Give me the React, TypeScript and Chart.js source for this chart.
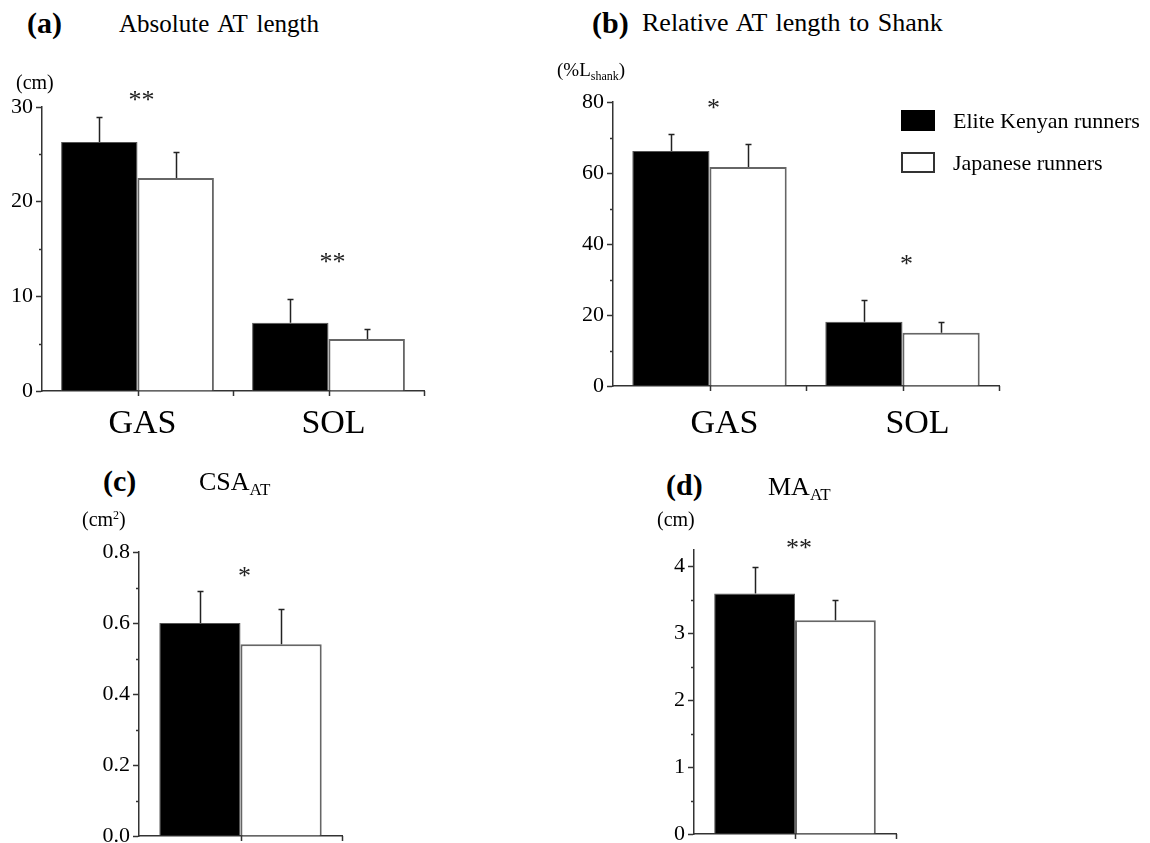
import React, { useEffect, useRef } from 'react';
import { Chart, registerables } from 'chart.js';

Chart.register(...registerables);

const FONT = "'Liberation Serif', 'Times New Roman', Times, serif";
const AXIS_COLOR = '#333333';

// ---------- data ----------
const groupNames = ['Elite Kenyan runners', 'Japanese runners'];
const muscleCategories = ['GAS', 'SOL'];
const singleCategory = [''];

// (a) Absolute AT length (cm)
const absKenyan = [26.3, 7.2];
const absKenyanSD = [2.6, 2.5];
const absJapanese = [22.5, 5.5];
const absJapaneseSD = [2.7, 1.1];
const absTicks = [0, 10, 20, 30];
const absMinorTicks = [5, 15, 25];
const absSigMarks = ['**', '**'];
const absSigLevel = [31.2, 14.1];

// (b) Relative AT length to shank (%Lshank)
const relKenyan = [66.2, 18.1];
const relKenyanSD = [4.9, 6.1];
const relJapanese = [61.7, 15.0];
const relJapaneseSD = [6.6, 3.1];
const relTicks = [0, 20, 40, 60, 80];
const relMinorTicks = [10, 30, 50, 70];
const relSigMarks = ['*', '*'];
const relSigLevel = [79.5, 35.6];

// (c) CSA_AT (cm2)
const csaKenyan = [0.6];
const csaKenyanSD = [0.09];
const csaJapanese = [0.54];
const csaJapaneseSD = [0.1];
const csaTicks = [0, 0.2, 0.4, 0.6, 0.8];
const csaMinorTicks = [0.1, 0.3, 0.5, 0.7];
const csaSigMarks = ['*'];
const csaSigLevel = [0.743];

// (d) MA_AT (cm)
const maKenyan = [3.6];
const maKenyanSD = [0.4];
const maJapanese = [3.2];
const maJapaneseSD = [0.3];
const maTicks = [0, 1, 2, 3, 4];
const maMinorTicks = [0.5, 1.5, 2.5, 3.5];
const maSigMarks = ['**'];
const maSigLevel = [4.35];

type PanelCfg = {
  key: string;
  left: number;
  top: number;
  width: number;
  height: number;
  yAxisWidth: number;
  xAxisHeight: number;
  padTop: number;
  padRight: number;
  categories: string[];
  kenyan: number[];
  kenyanSD: number[];
  japanese: number[];
  japaneseSD: number[];
  yMax: number;
  ticks: number[];
  minorTicks: number[];
  decimals: number;
  sigMarks: string[];
  sigLevel: number[];
  showX: boolean;
  xLabelPad: number;
  xLabelOffset: number;
};

const panels: PanelCfg[] = [
  {
    key: 'a', left: 0, top: 80, width: 450, height: 360,
    yAxisWidth: 42, xAxisHeight: 49, padTop: 27, padRight: 26,
    categories: muscleCategories, kenyan: absKenyan, kenyanSD: absKenyanSD,
    japanese: absJapanese, japaneseSD: absJapaneseSD,
    yMax: 30, ticks: absTicks, minorTicks: absMinorTicks, decimals: 0,
    sigMarks: absSigMarks, sigLevel: absSigLevel, showX: true, xLabelPad: 5, xLabelOffset: 5,
  },
  {
    key: 'b', left: 560, top: 80, width: 590, height: 360,
    yAxisWidth: 53, xAxisHeight: 54, padTop: 22, padRight: 151,
    categories: muscleCategories, kenyan: relKenyan, kenyanSD: relKenyanSD,
    japanese: relJapanese, japaneseSD: relJapaneseSD,
    yMax: 80, ticks: relTicks, minorTicks: relMinorTicks, decimals: 0,
    sigMarks: relSigMarks, sigLevel: relSigLevel, showX: true, xLabelPad: 10, xLabelOffset: 15,
  },
  {
    key: 'c', left: 80, top: 530, width: 300, height: 326,
    yAxisWidth: 59, xAxisHeight: 20, padTop: 22, padRight: 38,
    categories: singleCategory, kenyan: csaKenyan, kenyanSD: csaKenyanSD,
    japanese: csaJapanese, japaneseSD: csaJapaneseSD,
    yMax: 0.8, ticks: csaTicks, minorTicks: csaMinorTicks, decimals: 1,
    sigMarks: csaSigMarks, sigLevel: csaSigLevel, showX: false, xLabelPad: 0, xLabelOffset: 0,
  },
  {
    key: 'd', left: 640, top: 530, width: 300, height: 324,
    yAxisWidth: 54, xAxisHeight: 20, padTop: 20, padRight: 44,
    categories: singleCategory, kenyan: maKenyan, kenyanSD: maKenyanSD,
    japanese: maJapanese, japaneseSD: maJapaneseSD,
    yMax: 4.25, ticks: maTicks, minorTicks: maMinorTicks, decimals: 0,
    sigMarks: maSigMarks, sigLevel: maSigLevel, showX: false, xLabelPad: 0, xLabelOffset: 0,
  },
];

function PanelChart({ cfg }: { cfg: PanelCfg }) {
  const ref = useRef<HTMLCanvasElement>(null);

  useEffect(() => {
    const canvas = ref.current;
    if (!canvas) return;

    const extras = {
      id: 'extras' + cfg.key,
      afterDatasetsDraw(chart: any) {
        const ctx = chart.ctx;
        const ys = chart.scales.y;
        const sds = [cfg.kenyanSD, cfg.japaneseSD];
        ctx.save();
        ctx.strokeStyle = '#222222';
        ctx.lineWidth = 1.5;
        chart.data.datasets.forEach((ds: any, di: number) => {
          const meta = chart.getDatasetMeta(di);
          meta.data.forEach((el: any, i: number) => {
            const v = ds.data[i] as number;
            const x = Math.round(el.x) + 0.5;
            const yv = ys.getPixelForValue(v);
            const yt = Math.round(ys.getPixelForValue(v + sds[di][i])) + 0.5;
            ctx.beginPath();
            ctx.moveTo(x, yv);
            ctx.lineTo(x, yt);
            ctx.moveTo(x - 3, yt);
            ctx.lineTo(x + 3, yt);
            ctx.stroke();
          });
        });
        ctx.restore();
      },
      afterDraw(chart: any) {
        const ctx = chart.ctx;
        const xs = chart.scales.x;
        const ys = chart.scales.y;
        const area = chart.chartArea;
        ctx.save();
        ctx.strokeStyle = AXIS_COLOR;
        ctx.lineWidth = 1.5;
        cfg.minorTicks.forEach((v) => {
          const py = Math.round(ys.getPixelForValue(v)) + 0.5;
          ctx.beginPath();
          ctx.moveTo(area.left - 3, py);
          ctx.lineTo(area.left, py);
          ctx.stroke();
        });
        const n = cfg.categories.length;
        const w = (area.right - area.left) / n;
        for (let i = 0; i < n; i++) {
          const cx = xs.getPixelForValue(i);
          [cx, cx + w / 2].forEach((px) => {
            const rx = Math.round(px) + 0.5;
            ctx.beginPath();
            ctx.moveTo(rx, area.bottom);
            ctx.lineTo(rx, area.bottom + 5);
            ctx.stroke();
          });
        }
        const fs = 26;
        ctx.fillStyle = '#222222';
        ctx.font = `${fs}px ${FONT}`;
        ctx.textAlign = 'center';
        ctx.textBaseline = 'alphabetic';
        cfg.sigMarks.forEach((m, i) => {
          const px = xs.getPixelForValue(i);
          const py = ys.getPixelForValue(cfg.sigLevel[i]);
          ctx.fillText(m, px + 4, py + 0.47 * fs);
        });
        ctx.restore();
      },
    };

    const chart = new Chart(canvas, {
      type: 'bar',
      data: {
        labels: cfg.categories,
        datasets: [
          {
            label: groupNames[0],
            data: cfg.kenyan,
            backgroundColor: '#000000',
            borderColor: '#555555',
            borderWidth: 1,
          },
          {
            label: groupNames[1],
            data: cfg.japanese,
            backgroundColor: '#ffffff',
            borderColor: '#666666',
            borderWidth: 2,
          },
        ],
      },
      options: {
        responsive: false,
        animation: false,
        devicePixelRatio: 1,
        layout: { padding: { top: cfg.padTop, right: cfg.padRight, left: 0, bottom: 0 } },
        plugins: {
          legend: { display: false },
          tooltip: { enabled: false },
          title: { display: false },
        },
        datasets: { bar: { categoryPercentage: 0.8, barPercentage: 1.0 } },
        scales: {
          x: {
            type: 'category',
            offset: true,
            grid: { display: false, offset: true },
            border: { display: true, color: AXIS_COLOR, width: 1.5 },
            ticks: {
              display: cfg.showX,
              color: '#000000',
              font: { family: FONT, size: 34 },
              padding: cfg.xLabelPad,
              labelOffset: cfg.xLabelOffset,
              maxRotation: 0,
            },
            afterFit(s: any) {
              s.height = cfg.xAxisHeight;
            },
          },
          y: {
            type: 'linear',
            min: 0,
            max: cfg.yMax,
            grid: {
              display: true,
              drawOnChartArea: false,
              drawTicks: true,
              tickLength: 6,
              tickColor: AXIS_COLOR,
              tickWidth: 1.5,
            },
            border: { display: true, color: AXIS_COLOR, width: 1.5 },
            ticks: {
              color: '#000000',
              font: { family: FONT, size: 22 },
              padding: 3,
              callback: (v: any) => Number(v).toFixed(cfg.decimals),
            },
            afterBuildTicks(s: any) {
              s.ticks = cfg.ticks.map((v) => ({ value: v }));
            },
            afterFit(s: any) {
              s.width = cfg.yAxisWidth;
            },
          },
        },
      } as any,
      plugins: [extras],
    });

    return () => chart.destroy();
  }, [cfg]);

  return (
    <canvas
      ref={ref}
      width={cfg.width}
      height={cfg.height}
      style={{ position: 'absolute', left: cfg.left, top: cfg.top, width: cfg.width, height: cfg.height }}
    />
  );
}

function Txt({
  x, baseline, size, bold, ws, children,
}: { x: number; baseline: number; size: number; bold?: boolean; ws?: number; children: React.ReactNode }) {
  return (
    <div
      style={{
        position: 'absolute',
        left: x,
        top: baseline - 0.8375 * size,
        fontSize: size,
        lineHeight: '1',
        fontFamily: FONT,
        fontWeight: bold ? 700 : 400,
        whiteSpace: 'nowrap',
        wordSpacing: ws ?? 0,
        color: '#000',
      }}
    >
      {children}
    </div>
  );
}

const subStyle = (size: number, shift: number): React.CSSProperties => ({
  fontSize: size,
  position: 'relative',
  top: shift,
  verticalAlign: 'baseline',
});

export default function App() {
  return (
    <div
      style={{
        position: 'absolute',
        left: 0,
        top: 0,
        width: 1150,
        height: 843,
        overflow: 'hidden',
        background: '#ffffff',
      }}
    >
      {panels.map((p) => (
        <PanelChart key={p.key} cfg={p} />
      ))}

      {/* panel titles */}
      <Txt x={27} baseline={33} size={30} bold>(a)</Txt>
      <Txt x={119} baseline={32} size={25} ws={3}>Absolute AT length</Txt>
      <Txt x={16} baseline={89} size={20}>(cm)</Txt>

      <Txt x={592} baseline={33} size={30} bold>(b)</Txt>
      <Txt x={642} baseline={32} size={26} ws={2}>Relative AT length to Shank</Txt>
      <Txt x={557} baseline={76} size={19}>
        (%L<span style={subStyle(12, 4)}>shank</span>)
      </Txt>

      <Txt x={103} baseline={491} size={30} bold>(c)</Txt>
      <Txt x={199} baseline={491} size={26}>
        CSA<span style={subStyle(17, 5)}>AT</span>
      </Txt>
      <Txt x={82} baseline={526} size={20}>
        (cm<span style={subStyle(12, -7)}>2</span>)
      </Txt>

      <Txt x={666} baseline={495} size={30} bold>(d)</Txt>
      <Txt x={768} baseline={496} size={26}>
        MA<span style={subStyle(17, 5)}>AT</span>
      </Txt>
      <Txt x={657} baseline={526} size={20}>(cm)</Txt>

      {/* legend */}
      <div style={{ position: 'absolute', left: 901, top: 110, width: 34, height: 21, background: '#000' }} />
      <div
        style={{
          position: 'absolute', left: 901, top: 152, width: 34, height: 21,
          background: '#fff', border: '2px solid #333', boxSizing: 'border-box',
        }}
      />
      <Txt x={953} baseline={128} size={22}>{groupNames[0]}</Txt>
      <Txt x={953} baseline={170} size={22}>{groupNames[1]}</Txt>
    </div>
  );
}
